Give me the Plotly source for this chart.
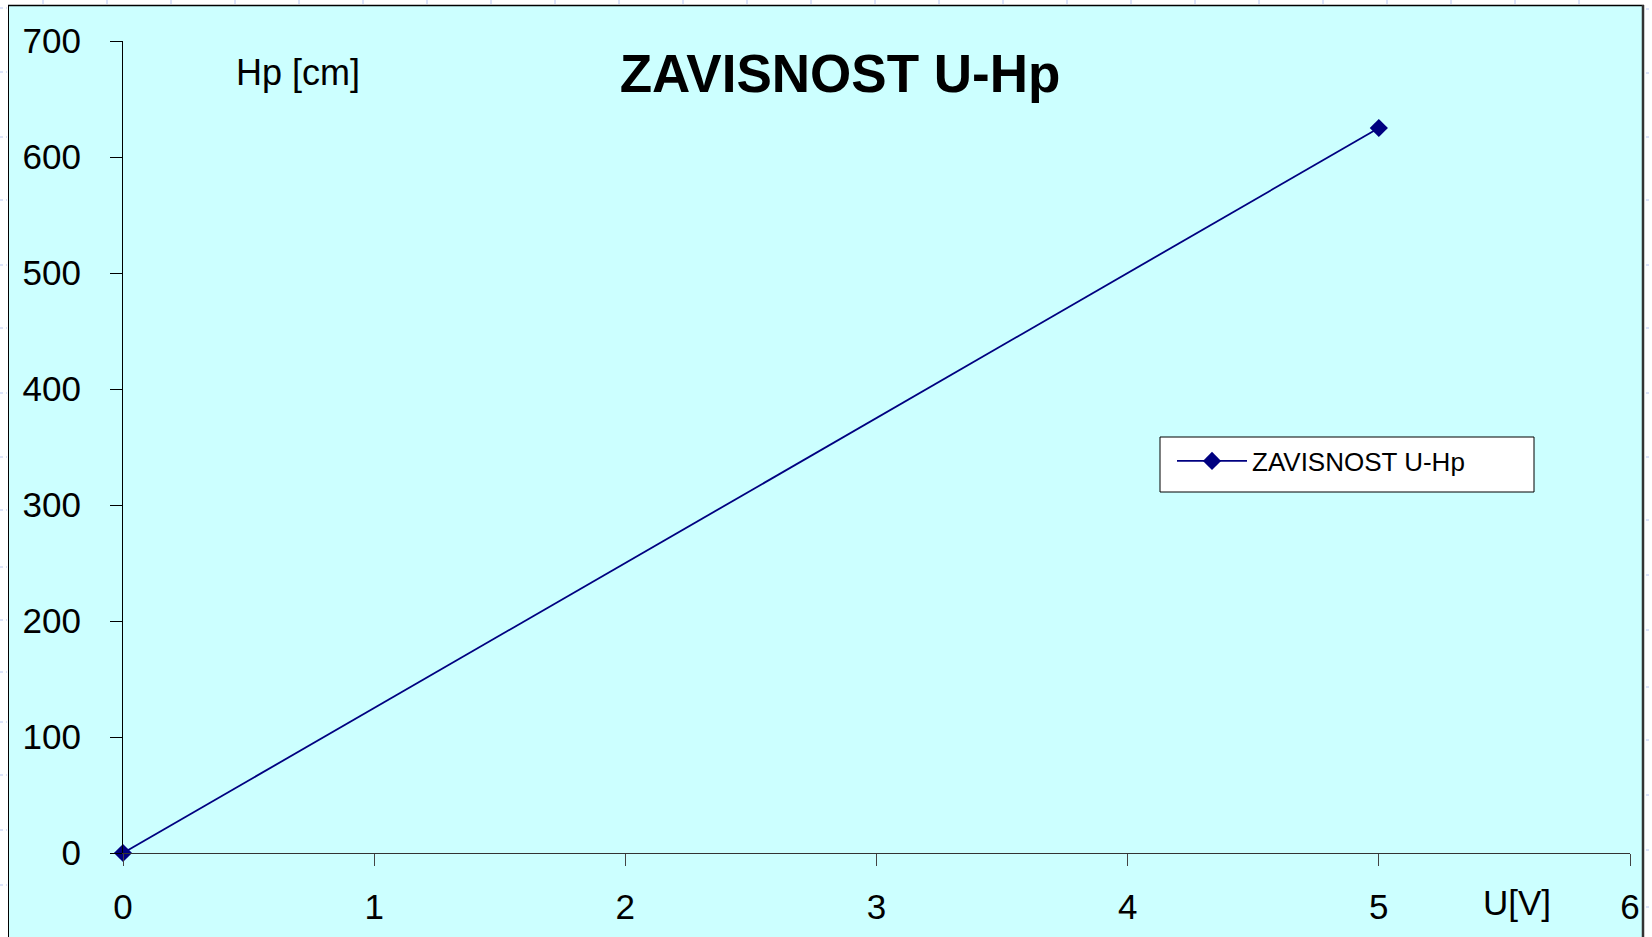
import plotly.graph_objects as go

# ---- data ----
u_volts = [0, 5]
hp_cm = [0, 625]
series_name = "ZAVISNOST U-Hp"
chart_title = "ZAVISNOST U-Hp"
y_label = "Hp [cm]"
x_label = "U[V]"
x_ticks = [0, 1, 2, 3, 4, 5, 6]
y_ticks = [0, 100, 200, 300, 400, 500, 600, 700]

W, H = 1652, 937
ML, MR, MT, MB = 123, 22, 41, 84
PW = W - ML - MR
PH = H - MT - MB

def px(x):
    return (x - ML) / PW

def py(y):
    return (H - MB - y) / PH

FONT = "Liberation Sans, Arial, sans-serif"
NAVY = "#000080"
CYAN = "#CCFFFF"
GRIDC = "#b8c6f2"

fig = go.Figure()
fig.add_trace(go.Scatter(
    x=u_volts, y=hp_cm, name=series_name, mode="lines+markers",
    line=dict(color=NAVY, width=1.8),
    marker=dict(symbol="diamond", size=14, color=NAVY),
    cliponaxis=False,
    showlegend=True,
))

shapes = []
# white strips outside the chart object (spreadsheet area)
shapes.append(dict(type="rect", xref="paper", yref="paper", x0=px(0), x1=px(8), y0=py(H), y1=py(0),
                   fillcolor="white", line=dict(width=0), layer="above"))
shapes.append(dict(type="rect", xref="paper", yref="paper", x0=px(0), x1=px(W), y0=py(5), y1=py(0),
                   fillcolor="white", line=dict(width=0), layer="above"))
shapes.append(dict(type="rect", xref="paper", yref="paper", x0=px(1644), x1=px(W), y0=py(H), y1=py(0),
                   fillcolor="white", line=dict(width=0), layer="above"))
# spreadsheet grid remnants
for gx in range(43, 1640, 64):
    shapes.append(dict(type="line", xref="paper", yref="paper", x0=px(gx), x1=px(gx), y0=py(0), y1=py(4),
                       line=dict(color=GRIDC, width=1), layer="above"))
left_rows = [8, 72, 137, 200, 265, 328, 393, 457, 510, 567, 620, 672, 722, 775, 830, 885]
right_rows = [9, 73, 137, 200, 265, 328, 393, 457, 520, 575, 630, 687, 740, 795, 850, 907]
for gy in left_rows:
    shapes.append(dict(type="line", xref="paper", yref="paper", x0=px(0), x1=px(7), y0=py(gy), y1=py(gy),
                       line=dict(color=GRIDC, width=1, dash="dot"), layer="above"))
for gy in right_rows:
    shapes.append(dict(type="line", xref="paper", yref="paper", x0=px(1646), x1=px(W), y0=py(gy), y1=py(gy),
                       line=dict(color=GRIDC, width=1, dash="dot"), layer="above"))
# chart object border
shapes.append(dict(type="line", xref="paper", yref="paper", x0=px(8.5), x1=px(8.5), y0=py(5), y1=py(H + 5),
                   line=dict(color="black", width=1), layer="above"))
shapes.append(dict(type="line", xref="paper", yref="paper", x0=px(8), x1=px(1644), y0=py(5.5), y1=py(5.5),
                   line=dict(color="black", width=1.5), layer="above"))
shapes.append(dict(type="line", xref="paper", yref="paper", x0=px(1643), x1=px(1643), y0=py(5), y1=py(H + 5),
                   line=dict(color="#333333", width=2.5), layer="above"))
# legend box
shapes.append(dict(type="rect", xref="paper", yref="paper", x0=px(1160), x1=px(1534), y0=py(492), y1=py(437),
                   fillcolor="white", line=dict(color="black", width=1), layer="above"))
fig.update_layout(shapes=shapes)

fig.update_layout(
    width=W, height=H,
    margin=dict(l=ML, r=MR, t=MT, b=MB, pad=0, autoexpand=False),
    paper_bgcolor=CYAN, plot_bgcolor=CYAN,
    font=dict(family=FONT, color="black"),
    title=dict(text="<b>" + chart_title + "</b>", font=dict(family=FONT, size=53, color="black"),
               x=px(840), xref="paper", xanchor="center", y=1 - 73 / H, yref="container", yanchor="middle"),
    showlegend=True,
    legend=dict(x=px(1172), xanchor="left", y=py(461), yanchor="middle", bgcolor="rgba(0,0,0,0)",
                borderwidth=0, font=dict(family=FONT, size=26, color="black"), itemwidth=70),
    xaxis=dict(range=[0, 6], tickvals=x_ticks, ticktext=[str(v) for v in x_ticks], automargin=False,
               showgrid=False, zeroline=False, showline=True, linecolor="#333333", linewidth=1,
               ticks="outside", ticklen=12, tickcolor="#444444", tickwidth=1,
               tickfont=dict(family=FONT, size=35, color="black"), ticklabelstandoff=11),
    yaxis=dict(range=[0, 700], tickvals=y_ticks, ticktext=[str(v) for v in y_ticks], automargin=False,
               showgrid=False, zeroline=False, showline=True, linecolor="black", linewidth=1,
               ticks="outside", ticklen=12, tickcolor="black", tickwidth=1,
               tickfont=dict(family=FONT, size=35, color="black"), ticklabelstandoff=22),
    annotations=[
        dict(text=y_label, xref="paper", yref="paper", x=px(234), y=py(72), xanchor="left", yanchor="middle",
             showarrow=False, font=dict(family=FONT, size=36, color="black")),
        dict(text=x_label, xref="paper", yref="paper", x=px(1517), y=py(902), xanchor="center", yanchor="middle",
             showarrow=False, font=dict(family=FONT, size=35, color="black")),
    ],
)

fig.write_html("out.html", config={"displayModeBar": False},
               post_script="document.body.style.margin='0px';document.body.style.overflow='hidden';")
